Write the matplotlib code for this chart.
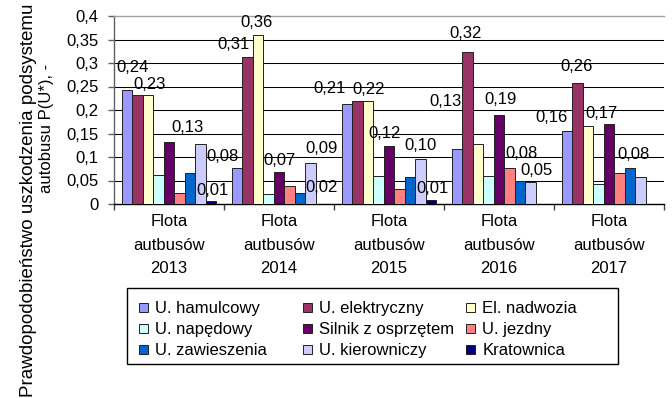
import matplotlib.pyplot as plt
import numpy as np
from matplotlib.patches import Rectangle

plt.rcParams['font.family'] = ['Liberation Sans', 'DejaVu Sans']
plt.rcParams['font.size'] = 12

# ---------------------------------------------------------------------------
# Dane
# ---------------------------------------------------------------------------

lata = ["2013", "2014", "2015", "2016", "2017"]
kategorie = [f"Flota\nautbusów\n{r}" for r in lata]

podsystemy = [
    "U. hamulcowy", "U. elektryczny", "El. nadwozia",
    "U. napędowy", "Silnik z osprzętem", "U. jezdny",
    "U. zawieszenia", "U. kierowniczy", "Kratownica",
]

u_hamulcowy    = [0.243, 0.076, 0.213, 0.117, 0.156]
u_elektryczny  = [0.232, 0.312, 0.219, 0.324, 0.258]
el_nadwozia    = [0.232, 0.360, 0.219, 0.128, 0.166]
u_napedowy     = [0.062, 0.021, 0.060, 0.060, 0.042]
silnik         = [0.132, 0.069, 0.124, 0.189, 0.170]
u_jezdny       = [0.023, 0.039, 0.031, 0.076, 0.065]
u_zawieszenia  = [0.066, 0.024, 0.057, 0.049, 0.076]
u_kierowniczy  = [0.128, 0.087, 0.096, 0.047, 0.057]
kratownica     = [0.006, 0.000, 0.008, 0.000, 0.000]

wartosci = [u_hamulcowy, u_elektryczny, el_nadwozia, u_napedowy, silnik,
            u_jezdny, u_zawieszenia, u_kierowniczy, kratownica]

y_ticki = [0, 0.05, 0.1, 0.15, 0.2, 0.25, 0.3, 0.35, 0.4]
y_etykiety = ["0", "0,05", "0,1", "0,15", "0,2", "0,25", "0,3", "0,35", "0,4"]

# słupki z etykietą wartości: (rok, podsystem)
etykiety = [(0, 0), (0, 2), (0, 4), (0, 8),
            (1, 0), (1, 1), (1, 2), (1, 4), (1, 6), (1, 7),
            (2, 0), (2, 2), (2, 4), (2, 7), (2, 8),
            (3, 1), (3, 2), (3, 4), (3, 5), (3, 7),
            (4, 0), (4, 1), (4, 4), (4, 6)]

# ---------------------------------------------------------------------------
# Styl
# ---------------------------------------------------------------------------

kolory = ["#9999FF", "#993366", "#FFFFCC", "#CCFFFF", "#660066",
          "#FF8080", "#0066CC", "#CCCCFF", "#000080"]

# przesunięcie etykiet względem wierzchołka słupka (px)
przesuniecia = [(6, 22), (2, 10), (18, 14), (1, 11),
                (-14, 12), (-14, 13), (-1, 12), (0, 11), (22, 5), (11, 15),
                (-17, 15), (1, 12), (-4, 12), (0, 13), (1, 12),
                (-2, 18), (-32, 42), (2, 16), (12, 15), (6, 11),
                (-15, 13), (-1, 16), (-8, 11), (3, 14)]

W, H = 672, 398
fig = plt.figure(figsize=(W / 100, H / 100), dpi=100)
ax = fig.add_axes([114 / W, 1 - 204 / H, 550 / W, 188 / H])

x = np.arange(len(lata))
szer = 0.0955
slupki = []
for j, (v, k) in enumerate(zip(wartosci, kolory)):
    b = ax.bar(x + (j - 4) * szer, v, szer, color=k, edgecolor="#202020",
               linewidth=0.7, label=podsystemy[j], zorder=3)
    slupki.append(b)

for (r, j), (dx, dy) in zip(etykiety, przesuniecia):
    v = wartosci[j][r]
    ax.annotate(f"{v:.2f}".replace(".", ","), xy=(x[r] + (j - 4) * szer, v),
                xytext=(dx, dy), textcoords="offset pixels",
                ha="center", va="center", fontsize=12, zorder=4)

ax.set_xlim(-0.5, len(lata) - 0.5)
ax.set_ylim(0, 0.4)
ax.set_yticks(y_ticki)
ax.set_yticklabels(y_etykiety)
ax.set_xticks(x)
ax.set_xticklabels(kategorie, linespacing=1.68)
ax.set_xticks(np.arange(len(lata) + 1) - 0.5, minor=True)

ax.tick_params(axis="x", which="major", length=0, pad=7.5)
ax.tick_params(axis="x", which="minor", length=4, width=1, color="#404040")
ax.tick_params(axis="y", length=4, width=1, color="#606060", pad=7)

ax.yaxis.grid(True, color="black", linewidth=0.75)
ax.set_axisbelow(True)
ax.get_ygridlines()[-1].set_color("#a0a0a0")

ax.spines["right"].set_visible(False)
ax.spines["top"].set_color("#a0a0a0")
ax.spines["left"].set_color("#606060")
ax.spines["bottom"].set_color("black")
for s in ax.spines.values():
    s.set_linewidth(1)

# tytuł osi Y w dwóch liniach
fig.text(29 / W, 1 / H, "Prawdopodobieństwo uszkodzenia podsystemu",
         rotation=90, ha="center", va="bottom", fontsize=13.5)
fig.text(47 / W, 1 - 128 / H, "autobusu P(U*), -",
         rotation=90, ha="center", va="center", fontsize=12)

# legenda: trzy kolumny w jednej ramce
kolumny_x = [131, 295, 458]
for c, kx in enumerate(kolumny_x):
    idx = [c, c + 3, c + 6]
    fig.legend([slupki[i] for i in idx], [podsystemy[i] for i in idx],
               loc="upper left", bbox_to_anchor=(kx / W, 1 - 293 / H),
               bbox_transform=fig.transFigure, frameon=False, borderpad=0,
               handlelength=0.5, handleheight=0.5, handletextpad=0.45,
               labelspacing=0.36, fontsize=12)
fig.add_artist(Rectangle((127 / W, 1 - 364 / H), 491 / W, 76 / H,
                         transform=fig.transFigure, fill=False,
                         edgecolor="black", linewidth=1))

fig.savefig("out.png", dpi=100)
